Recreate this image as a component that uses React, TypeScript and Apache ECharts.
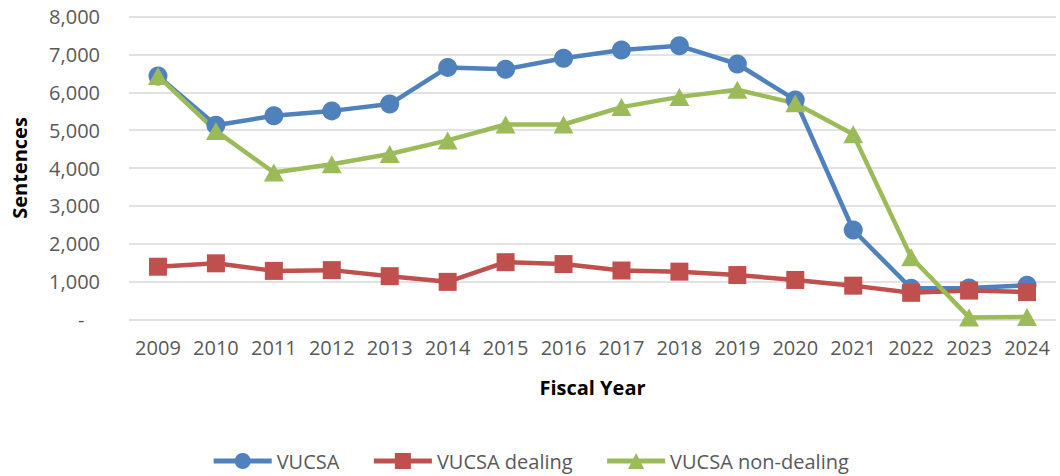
import React, { useEffect, useRef } from "react";
import * as echarts from "echarts";

const years = ["2009", "2010", "2011", "2012", "2013", "2014", "2015", "2016", "2017", "2018", "2019", "2020", "2021", "2022", "2023", "2024"];
const vucsa = [6430, 5130, 5380, 5510, 5690, 6660, 6610, 6900, 7120, 7230, 6750, 5800, 2360, 820, 830, 900];
const vucsaDealing = [1390, 1480, 1280, 1300, 1140, 990, 1510, 1460, 1290, 1260, 1170, 1040, 890, 700, 760, 720];
const vucsaNonDealing = [6430, 4980, 3880, 4100, 4370, 4730, 5150, 5150, 5610, 5880, 6070, 5710, 4890, 1640, 50, 60];

const FONT = "'Open Sans', sans-serif";

export default function App() {
  const ref = useRef<HTMLDivElement>(null);
  useEffect(() => {
    document.body.style.margin = "0";
    if (!ref.current) return;
    const chart = echarts.init(ref.current, undefined, { renderer: "svg" });
    const lineSeries = (name: string, data: number[], color: string, symbol: string, size: any) => ({
      name,
      type: "line",
      data,
      symbol,
      symbolSize: size,
      showAllSymbol: true,
      lineStyle: { color, width: 4.5 },
      itemStyle: { color },
      emphasis: { disabled: true },
    });
    chart.setOption({
      animation: false,
      textStyle: { fontFamily: FONT },
      grid: { left: 129, right: 4, top: 16.7, bottom: 156.7 },
      legend: {
        left: "center",
        top: 446,
        itemWidth: 58,
        itemHeight: 20,
        itemGap: 32,
        lineStyle: { width: 5 },
        textStyle: { fontSize: 20, color: "#595959", fontFamily: FONT },
        data: ["VUCSA", "VUCSA dealing", "VUCSA non-dealing"],
      },
      xAxis: {
        type: "category",
        data: years,
        boundaryGap: true,
        axisLine: { show: false },
        axisTick: { show: false },
        axisLabel: { fontSize: 20, color: "#595959", margin: 18, fontFamily: FONT, interval: 0 },
        name: "Fiscal Year",
        nameLocation: "middle",
        nameGap: 58,
        nameTextStyle: { fontSize: 20, fontWeight: "bold", color: "#000", fontFamily: FONT },
      },
      yAxis: {
        type: "value",
        min: 0,
        max: 8000,
        interval: 1000,
        axisLine: { show: false },
        axisTick: { show: false },
        splitLine: { lineStyle: { color: "#D9D9D9", width: 1.5 } },
        axisLabel: {
          fontSize: 20,
          color: "#595959",
          margin: 29,
          fontFamily: FONT,
          formatter: (v: number) => (v === 0 ? "-   " : v.toLocaleString("en-US")),
        },
        name: "Sentences",
        nameLocation: "middle",
        nameGap: 100,
        nameTextStyle: { fontSize: 20, fontWeight: "bold", color: "#000", fontFamily: FONT },
      },
      series: [
        lineSeries("VUCSA", vucsa, "#4F81BD", "circle", 19),
        lineSeries("VUCSA dealing", vucsaDealing, "#C0504D", "rect", 18),
        lineSeries("VUCSA non-dealing", vucsaNonDealing, "#9BBB59", "triangle", [20, 18]),
      ],
    });
    return () => chart.dispose();
  }, []);
  return <div ref={ref} style={{ position: "absolute", left: 0, top: 0, width: 1060, height: 476 }} />;
}
